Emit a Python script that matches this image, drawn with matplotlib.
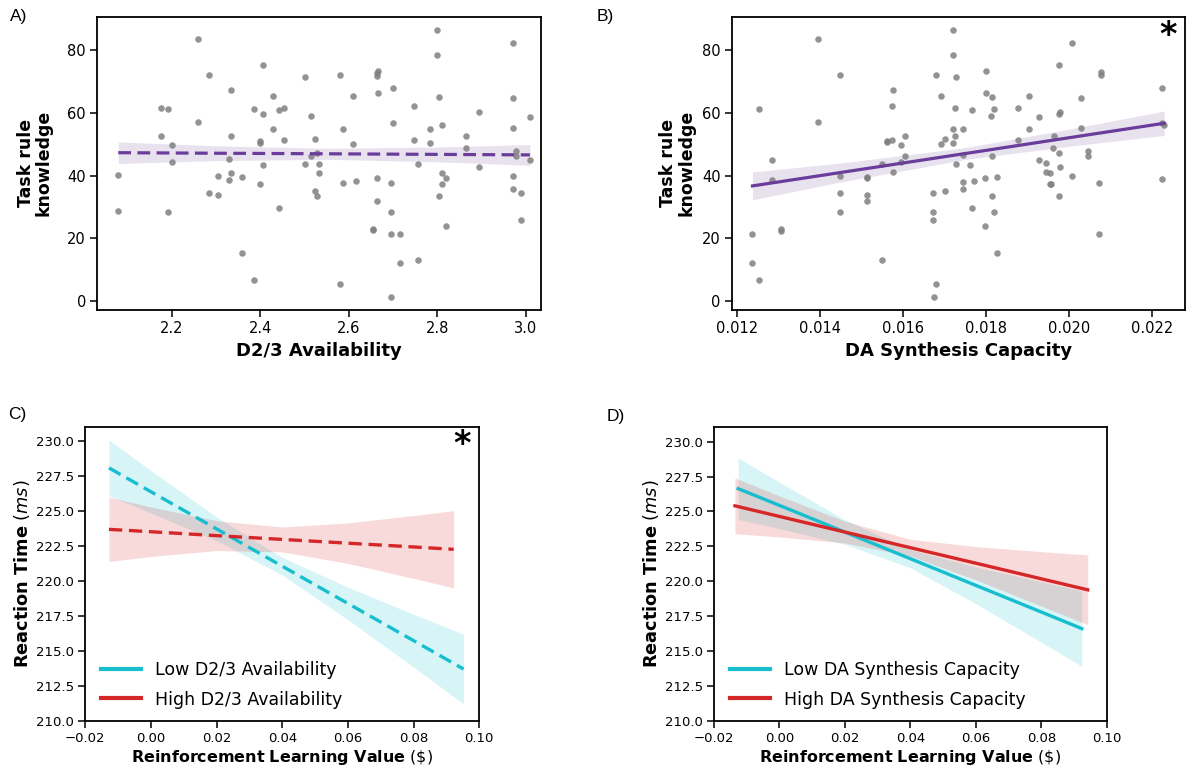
"""Four-panel figure: task rule knowledge vs dopamine measures (A, B) and
reaction time vs reinforcement learning value split by low/high groups (C, D).

Writes out.png.
"""

import matplotlib

matplotlib.use("Agg")
import matplotlib.pyplot as plt
from matplotlib.lines import Line2D

plt.rcParams["font.family"] = ["DejaVu Sans"]
plt.rcParams["mathtext.fontset"] = "dejavusans"

# ---- panel A: D2/3 availability vs task rule knowledge ----
d23_x = [2.079, 2.079, 2.176, 2.192, 2.176, 2.200, 2.200, 2.192, 2.259, 2.283,
         2.259, 2.283, 2.305, 2.305, 2.333, 2.333, 2.329, 2.333, 2.329, 2.359,
         2.359, 2.385, 2.405, 2.405, 2.400, 2.400, 2.407, 2.400, 2.385, 2.429,
         2.442, 2.453, 2.429, 2.453, 2.442, 2.502, 2.515, 2.524, 2.527, 2.515,
         2.502, 2.532, 2.532, 2.524, 2.527, 2.580, 2.609, 2.586, 2.609, 2.586,
         2.615, 2.580, 2.666, 2.664, 2.664, 2.666, 2.700, 2.700, 2.663, 2.695,
         2.663, 2.695, 2.654, 2.654, 2.695, 2.715, 2.715, 2.695, 2.747, 2.747,
         2.756, 2.756, 2.799, 2.799, 2.803, 2.783, 2.783, 2.811, 2.811, 2.819,
         2.811, 2.803, 2.819, 2.864, 2.864, 2.894, 2.894, 2.971, 2.971, 2.971,
         2.977, 2.977, 2.971, 2.971, 2.989, 2.989, 3.009, 3.009]
d23_y = [40.1, 28.6, 61.6, 61.3, 52.5, 49.8, 44.2, 28.3, 83.6, 72.0,
         57.1, 34.4, 39.8, 33.8, 67.4, 52.5, 45.2, 40.9, 38.6, 39.6,
         15.4, 61.1, 75.2, 59.6, 50.9, 50.3, 43.5, 37.4, 6.6, 65.4,
         60.8, 61.7, 54.9, 51.3, 29.7, 71.4, 58.9, 51.8, 47.2, 46.4,
         43.8, 43.8, 40.9, 35.2, 33.5, 72.1, 65.5, 54.8, 50.0, 37.7,
         38.4, 5.5, 73.4, 72.6, 71.8, 66.4, 67.8, 56.9, 39.2, 37.6,
         31.8, 28.3, 22.9, 22.5, 21.2, 21.2, 12.1, 1.3, 62.3, 51.4,
         43.6, 13.1, 86.4, 78.5, 65.0, 55.0, 50.4, 56.1, 40.7, 39.3,
         37.2, 33.5, 23.8, 52.6, 48.7, 60.2, 42.7, 82.4, 64.8, 55.3,
         47.8, 46.2, 39.9, 35.6, 34.4, 25.8, 58.7, 45.1]
# fitted line and 95% band
d23_fit_x = [2.079, 2.300, 2.550, 2.800, 3.009]
d23_fit_y = [47.30, 47.13, 46.95, 46.76, 46.60]
d23_band_lo = [43.85, 44.77, 45.20, 44.40, 43.30]
d23_band_hi = [50.75, 49.49, 48.70, 49.12, 49.90]

# ---- panel B: DA synthesis capacity vs task rule knowledge ----
dasc_x = [0.01238, 0.01238, 0.01254, 0.01254, 0.01284, 0.01284, 0.01307, 0.01307,
          0.01397, 0.01397, 0.01448, 0.01448, 0.01448, 0.01449, 0.01513, 0.01513,
          0.01513, 0.01514, 0.01550, 0.01550, 0.01563, 0.01563, 0.01574, 0.01574,
          0.01576, 0.01576, 0.01595, 0.01595, 0.01606, 0.01606, 0.01674, 0.01674,
          0.01674, 0.01675, 0.01681, 0.01681, 0.01692, 0.01692, 0.01702, 0.01702,
          0.01720, 0.01720, 0.01720, 0.01720, 0.01728, 0.01726, 0.01726, 0.01728,
          0.01746, 0.01746, 0.01746, 0.01746, 0.01763, 0.01768, 0.01768, 0.01771,
          0.01797, 0.01797, 0.01800, 0.01800, 0.01813, 0.01814, 0.01816, 0.01821,
          0.01816, 0.01821, 0.01828, 0.01828, 0.01878, 0.01878, 0.01903, 0.01903,
          0.01929, 0.01929, 0.01946, 0.01946, 0.01954, 0.01954, 0.01958, 0.01965,
          0.01963, 0.01976, 0.01976, 0.01980, 0.01976, 0.01980, 0.01977, 0.02007,
          0.02007, 0.02029, 0.02029, 0.02047, 0.02047, 0.02072, 0.02072, 0.02077,
          0.02077, 0.02224, 0.02224, 0.02224, 0.02230]
dasc_y = [21.2, 12.1, 61.2, 6.6, 45.1, 38.6, 22.9, 22.4,
          83.6, 57.1, 72.0, 40.0, 34.5, 28.5, 39.7, 39.1,
          33.7, 31.8, 43.6, 13.1, 50.6, 51.1, 51.3, 62.3,
          67.4, 41.0, 49.7, 44.3, 52.6, 46.1, 34.5, 28.4,
          25.9, 1.3, 72.1, 5.5, 65.5, 50.0, 35.2, 51.8,
          86.5, 78.5, 55.0, 50.3, 71.4, 61.6, 52.6, 43.8,
          54.8, 46.7, 37.8, 35.6, 43.5, 60.9, 29.7, 38.4,
          39.3, 23.8, 73.5, 66.5, 58.9, 46.4, 65.0, 61.3,
          33.5, 28.3, 39.6, 15.4, 61.7, 51.3, 65.4, 54.9,
          58.7, 45.1, 43.9, 41.0, 40.7, 37.3, 37.4, 52.7,
          48.7, 75.2, 59.7, 60.2, 47.3, 42.8, 33.5, 82.4,
          39.8, 64.8, 55.3, 47.9, 46.2, 37.7, 21.2, 73.1,
          72.0, 67.9, 56.7, 39.0, 56.2]
dasc_fit_x = [0.01238, 0.0145, 0.0175, 0.0200, 0.0223]
dasc_fit_y = [36.70, 40.97, 47.02, 52.06, 56.70]
dasc_band_lo = [32.25, 37.94, 45.12, 49.33, 52.80]
dasc_band_hi = [41.15, 44.00, 48.92, 54.79, 60.60]

# ---- panel C: RT by RL value, low / high D2/3 availability ----
c_low_x = [-0.0128, 0.0, 0.02, 0.04, 0.06, 0.08, 0.0952]
c_low_y = [228.10, 226.39, 223.73, 221.06, 218.39, 215.73, 213.70]
c_low_lo = [226.10, 224.87, 222.88, 220.43, 217.23, 213.84, 211.20]
c_low_hi = [230.10, 227.91, 224.58, 221.69, 219.55, 217.62, 216.20]
c_high_x = [-0.0128, 0.0, 0.02, 0.04, 0.06, 0.08, 0.0922]
c_high_y = [223.70, 223.53, 223.25, 222.98, 222.71, 222.44, 222.27]
c_high_lo = [221.40, 221.76, 222.18, 222.09, 221.26, 220.19, 219.50]
c_high_hi = [226.00, 225.30, 224.32, 223.87, 224.16, 224.69, 225.04]

# ---- panel D: RT by RL value, low / high DA synthesis capacity ----
d_low_x = [-0.0126, 0.0, 0.02, 0.04, 0.06, 0.08, 0.0924]
d_low_y = [226.63, 225.43, 223.52, 221.61, 219.70, 217.79, 216.60]
d_low_lo = [224.43, 223.77, 222.64, 220.96, 218.39, 215.63, 213.90]
d_low_hi = [228.83, 227.09, 224.40, 222.26, 221.01, 219.95, 219.30]
d_high_x = [-0.0136, 0.0, 0.02, 0.04, 0.06, 0.08, 0.0942]
d_high_y = [225.40, 224.64, 223.52, 222.40, 221.29, 220.17, 219.38]
d_high_lo = [223.40, 223.17, 222.74, 221.80, 220.10, 218.22, 216.88]
d_high_hi = [227.40, 226.11, 224.30, 223.00, 222.48, 222.12, 221.88]

rt_ticks = [210.0, 212.5, 215.0, 217.5, 220.0, 222.5, 225.0, 227.5, 230.0]
rl_ticks = [-0.02, 0.0, 0.02, 0.04, 0.06, 0.08, 0.10]

PURPLE = "#6a3d9a"
CYAN = "#17becf"
RED = "#d62728"
DOTS = "#808080"

W, H = 1203, 771


def px_axes(fig, left, top, right, bottom):
    """Add axes given a box in pixel coordinates (origin top-left)."""
    return fig.add_axes([left / W, 1 - bottom / H, (right - left) / W, (bottom - top) / H])


def style(ax, tick_size):
    for s in ax.spines.values():
        s.set_linewidth(1.3)
    ax.tick_params(direction="out", length=5, width=1.1, labelsize=tick_size, pad=3)


def rt_panel(ax):
    ax.set_xlim(-0.02, 0.10)
    ax.set_ylim(210.0, 231.05)
    ax.set_xticks(rl_ticks)
    ax.set_xticklabels([f"{t:.2f}".replace("-", "\u2212") for t in rl_ticks])
    ax.set_yticks(rt_ticks)
    ax.set_yticklabels([f"{t:.1f}" for t in rt_ticks])
    style(ax, 9.5)
    ax.set_xlabel(r"$\mathbf{Reinforcement\ Learning\ Value}$ (\$)", fontsize=11.5, labelpad=2)
    ax.set_ylabel(r"$\mathbf{Reaction\ Time}$ ($\mathit{ms}$)", fontsize=12.8)
    ax.yaxis.set_label_coords(-0.135, 0.5)


def rt_legend(ax, labels):
    handles = [Line2D([], [], color=CYAN, lw=3), Line2D([], [], color=RED, lw=3)]
    ax.legend(handles, labels, loc="lower left", frameon=False, fontsize=12.5,
              handlelength=2.3, borderaxespad=0.3, labelspacing=0.64,
              bbox_to_anchor=(0.01, 0.0))


fig = plt.figure(figsize=(W / 100, H / 100), dpi=100)

# A
ax = px_axes(fig, 97, 16.7, 541, 310)
ax.scatter(d23_x, d23_y, s=22, color=DOTS, alpha=0.85, linewidths=0, zorder=2)
ax.fill_between(d23_fit_x, d23_band_lo, d23_band_hi, color=PURPLE, alpha=0.15, linewidth=0, zorder=1)
ax.plot(d23_fit_x, d23_fit_y, color=PURPLE, lw=2.3, ls=(0, (4, 2)), zorder=3)
ax.set_xlim(2.031, 3.034)
ax.set_ylim(-2.9, 90.7)
ax.set_xticks([2.2, 2.4, 2.6, 2.8, 3.0])
ax.set_yticks([0, 20, 40, 60, 80])
style(ax, 10.5)
ax.set_xlabel("D2/3 Availability", fontsize=13, fontweight="bold")
ax.set_ylabel("Task rule\nknowledge", fontsize=12.5, fontweight="bold", linespacing=1.0)
ax.yaxis.set_label_coords(-0.1, 0.5)

# B
ax = px_axes(fig, 731.7, 16.7, 1185, 310)
ax.scatter(dasc_x, dasc_y, s=22, color=DOTS, alpha=0.85, linewidths=0, zorder=2)
ax.fill_between(dasc_fit_x, dasc_band_lo, dasc_band_hi, color=PURPLE, alpha=0.15, linewidth=0, zorder=1)
ax.plot(dasc_fit_x, dasc_fit_y, color=PURPLE, lw=2.3, zorder=3)
ax.set_xlim(0.01188, 0.02280)
ax.set_ylim(-2.9, 90.7)
ax.set_xticks([0.012, 0.014, 0.016, 0.018, 0.020, 0.022])
ax.set_xticklabels(["0.012", "0.014", "0.016", "0.018", "0.020", "0.022"])
ax.set_yticks([0, 20, 40, 60, 80])
style(ax, 10.5)
ax.set_xlabel("DA Synthesis Capacity", fontsize=13, fontweight="bold")
ax.set_ylabel("Task rule\nknowledge", fontsize=12.5, fontweight="bold", linespacing=1.0)
ax.yaxis.set_label_coords(-0.08, 0.5)
ax.text(0.962, 0.935, "*", transform=ax.transAxes, fontsize=24, fontweight="bold",
        ha="center", va="center")

# C
ax = px_axes(fig, 85.3, 426.7, 479.3, 720.7)
ax.fill_between(c_low_x, c_low_lo, c_low_hi, color=CYAN, alpha=0.17, linewidth=0)
ax.fill_between(c_high_x, c_high_lo, c_high_hi, color=RED, alpha=0.17, linewidth=0)
ax.plot(c_low_x, c_low_y, color=CYAN, lw=2.4, ls=(0, (4, 2)))
ax.plot(c_high_x, c_high_y, color=RED, lw=2.4, ls=(0, (4, 2)))
rt_panel(ax)
rt_legend(ax, ["Low D2/3 Availability", "High D2/3 Availability"])
ax.text(0.955, 0.94, "*", transform=ax.transAxes, fontsize=24, fontweight="bold",
        ha="center", va="center")

# D
ax = px_axes(fig, 714, 427, 1106.7, 720.7)
ax.fill_between(d_low_x, d_low_lo, d_low_hi, color=CYAN, alpha=0.17, linewidth=0)
ax.fill_between(d_high_x, d_high_lo, d_high_hi, color=RED, alpha=0.17, linewidth=0)
ax.plot(d_low_x, d_low_y, color=CYAN, lw=2.4)
ax.plot(d_high_x, d_high_y, color=RED, lw=2.4)
rt_panel(ax)
rt_legend(ax, ["Low DA Synthesis Capacity", "High DA Synthesis Capacity"])

# panel letters
for letter, x, y in [("A)", 10, 9), ("B)", 597, 9), ("C)", 8, 407), ("D)", 607, 409)]:
    fig.text(x / W, 1 - y / H, letter, fontsize=12.5, family="Liberation Sans",
             ha="left", va="top")

fig.savefig("out.png", dpi=100)
print("wrote out.png")
